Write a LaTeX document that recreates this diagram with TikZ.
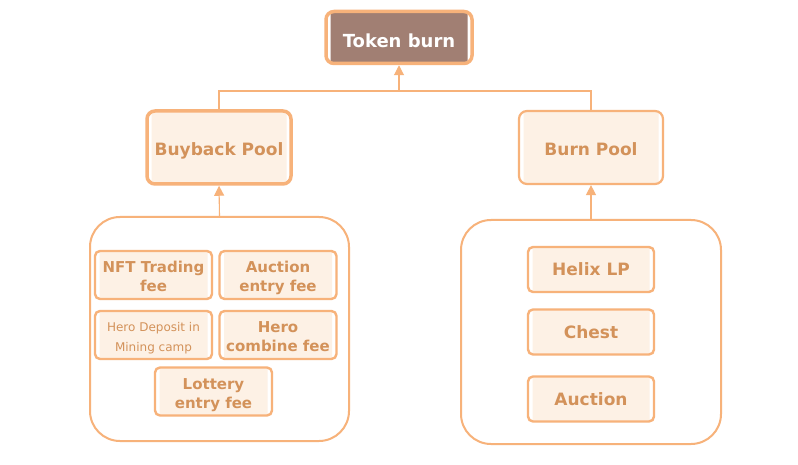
\documentclass[tikz,border=0pt]{standalone}
\usepackage{fontspec}
\setmainfont{DejaVu Sans}
\usetikzlibrary{arrows.meta}
\definecolor{burnorange}{HTML}{F7B27A}
\definecolor{burnfill}{HTML}{FDF1E5}
\definecolor{burnbrown}{HTML}{A17F73}
\definecolor{burntext}{HTML}{D3925A}
\tikzset{
  inset/.style={path picture={\fill[#1,rounded corners=4pt]
    ([shift={(4.5pt,4.5pt)}]path picture bounding box.north west) rectangle
    ([shift={(-4.5pt,-4.5pt)}]path picture bounding box.south east);}},
  poolbox/.style={draw=burnorange,fill=white,rounded corners=8pt,inset=burnfill,
    font=\bfseries\fontsize{17}{20}\selectfont,text=burntext,align=center,
    minimum width=144pt,minimum height=73pt,inner sep=0pt,
    text height=16.5pt,text depth=0pt},
  feebox/.style={draw=burnorange,fill=white,line width=2.4pt,rounded corners=5pt,inset=burnfill,
    font=\bfseries\fontsize{15}{19}\selectfont,text=burntext,align=center,
    minimum width=117pt,minimum height=48pt,inner sep=0pt,
    text height=33pt,text depth=0pt},
  srcbox/.style={draw=burnorange,fill=white,line width=2.4pt,rounded corners=5pt,inset=burnfill,
    font=\bfseries\fontsize{17}{20}\selectfont,text=burntext,
    minimum width=126pt,minimum height=45pt,inner sep=0pt},
  holder/.style={draw=burnorange,line width=2pt,rounded corners=30pt},
  link/.style={draw=burnorange,line width=1.1pt},
  feed/.style={link,-{Triangle[length=10pt,width=10pt]}}
}
\begin{document}
\begin{tikzpicture}[x=1pt,y=-1pt]
\useasboundingbox[fill=white] (0,0) rectangle (798,465);
% top
\node[draw=burnorange,fill=white,line width=3.5pt,rounded corners=8pt,inset=burnbrown,
  minimum width=146pt,minimum height=52pt,inner sep=0pt,text height=19.5pt,text depth=0pt,
  font=\bfseries\fontsize{18}{20}\selectfont,text=white] (token) at (399,37.5) {Token burn};
% pools
\node[poolbox,line width=3.5pt] (buyback) at (219,147.5) {Buyback Pool};
\node[poolbox,line width=2.2pt] (burnpool) at (591,147.5) {Burn Pool};
\coordinate (split) at (399,91);
\draw[link] (buyback.north) |- (split) -| (burnpool.north);
\draw[feed] (split) -- (token.south);
% containers
\node[holder,minimum width=259pt,minimum height=224pt] (left) at (219.5,329) {};
\node[holder,minimum width=260pt,minimum height=224pt] (right) at (591,332) {};
\draw[feed] (left.north) -- (buyback.south);
\draw[feed] (right.north) -- (burnpool.south);
% fees
\node[feebox] (nft) at (153.5,275) {NFT Trading\\fee};
\node[feebox] (auctionfee) at (278,275) {Auction\\entry fee};
\node[feebox,font=\fontsize{12}{20}\selectfont] (deposit) at (153.5,335) {Hero Deposit in\\Mining camp};
\node[feebox] (combine) at (278,335) {Hero\\combine fee};
\node[feebox] (lottery) at (213.5,391.5) {Lottery\\entry fee};
% sources
\node[srcbox] (helix) at (591,269.5) {Helix LP};
\node[srcbox] (chest) at (591,332) {Chest};
\node[srcbox] (auction) at (591,399) {Auction};
\end{tikzpicture}
\end{document}
